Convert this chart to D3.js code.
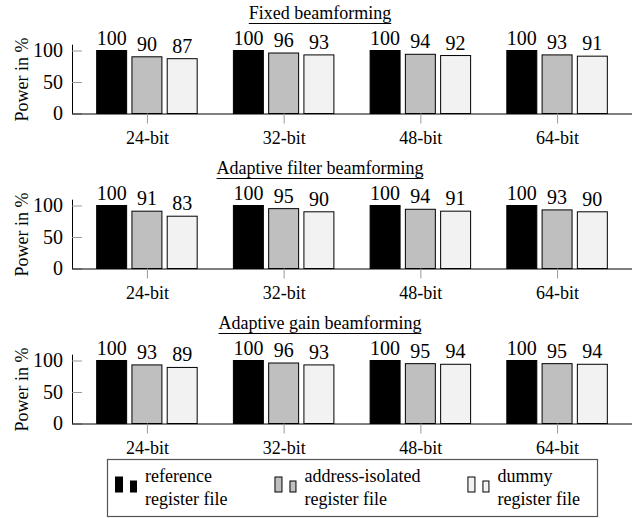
<!DOCTYPE html>
<html>
<head>
<meta charset="utf-8">
<script src="https://cdn.jsdelivr.net/npm/d3@7"></script>
<style>
  body { margin: 0; background: #fff; }
</style>
</head>
<body>
<script>
// data
const categories = ["24-bit", "32-bit", "48-bit", "64-bit"];
const panelTitles = ["Fixed beamforming", "Adaptive filter beamforming", "Adaptive gain beamforming"];
const seriesNames = ["reference register file", "address-isolated register file", "dummy register file"];
const yTicks = [0, 50, 100];

const fixedValues = [[100, 100, 100, 100], [90, 96, 94, 93], [87, 93, 92, 91]];
const filterValues = [[100, 100, 100, 100], [91, 95, 94, 93], [83, 90, 91, 90]];
const gainValues = [[100, 100, 100, 100], [93, 96, 95, 95], [89, 93, 94, 94]];
const panels = [fixedValues, filterValues, gainValues];

const colors = ["#000000", "#bfbfbf", "#f2f2f2"];

const W = 643, H = 518;
const left = 72, right = 632;
const firstBase = 113.5, panelStep = 155;
const FONT = "'Liberation Serif', 'Times New Roman', serif";
const textSize = 18, numSize = 20;

const svg = d3.select("body").append("svg")
    .attr("width", W)
    .attr("height", H)
    .attr("font-family", FONT)
    .style("display", "block");

let x = d3.scalePoint()
    .domain(categories)
    .range([left, right])
    .padding(0.548);

let xs = d3.scaleBand()
    .domain(d3.range(seriesNames.length))
    .range([-50.25, 50.25])
    .paddingInner(0.15);

panels.forEach((values, p) => {
    const base = firstBase + p * panelStep;
    let y = d3.scaleLinear().domain([0, 110]).range([base, base - 110 * 0.63]);
    let g = svg.append("g");

    // bars
    values.forEach((series, s) => {
        g.selectAll(null)
            .data(series)
            .join("rect")
            .attr("x", (d, i) => x(categories[i]) + xs(s))
            .attr("width", xs.bandwidth())
            .attr("y", d => y(d))
            .attr("height", d => y(0) - y(d))
            .attr("fill", colors[s])
            .attr("stroke", "#000")
            .attr("stroke-width", 1);

        g.selectAll(null)
            .data(series)
            .join("text")
            .attr("x", (d, i) => x(categories[i]) + xs(s) + xs.bandwidth() / 2)
            .attr("y", d => y(d) - 6)
            .attr("text-anchor", "middle")
            .attr("font-family", FONT)
            .attr("font-size", numSize)
            .text(d => d);
    });

    // y axis
    let yAxis = g.append("g")
        .attr("transform", `translate(${left},0)`)
        .call(d3.axisLeft(y).tickValues(yTicks).tickSize(-10).tickSizeOuter(0).tickPadding(9));
    yAxis.attr("font-family", FONT).attr("font-size", numSize);
    yAxis.selectAll(".tick line").attr("stroke", "#999");
    yAxis.select(".domain").attr("stroke", "#000");

    // x axis
    let xAxis = g.append("g")
        .attr("transform", `translate(0,${base})`)
        .call(d3.axisBottom(x).tickSize(10).tickSizeOuter(0).tickPadding(8));
    xAxis.attr("font-family", FONT).attr("font-size", textSize);
    xAxis.select(".domain").attr("d", `M${left},0.5H${right}`).attr("stroke", "#000");
    xAxis.selectAll(".tick line").attr("stroke", "#999");

    // y label
    g.append("text")
        .attr("transform", `translate(28,${base - 34}) rotate(-90)`)
        .attr("text-anchor", "middle")
        .attr("font-family", FONT)
        .attr("font-size", textSize)
        .text("Power in %");

    // underlined title
    let title = g.append("text")
        .attr("x", 320)
        .attr("y", base - 95)
        .attr("text-anchor", "middle")
        .attr("font-family", FONT)
        .attr("font-size", textSize)
        .text(panelTitles[p]);
    let tw = title.node().getComputedTextLength();
    g.append("line")
        .attr("x1", 320 - tw / 2).attr("x2", 320 + tw / 2)
        .attr("y1", base - 90).attr("y2", base - 90)
        .attr("stroke", "#000").attr("stroke-width", 1);
});

// legend
const legTop = 459, legBottom = 517;
let legend = svg.append("g");
legend.append("rect")
    .attr("x", 107.5).attr("y", legTop + 0.5)
    .attr("width", 490).attr("height", legBottom - legTop - 1)
    .attr("fill", "#fff")
    .attr("stroke", "#555")
    .attr("stroke-width", 1.2);

let cx = 115.5;
seriesNames.forEach((name, s) => {
    let item = legend.append("g").attr("transform", `translate(${cx},0)`);
    item.append("rect")
        .attr("x", 0).attr("y", 477).attr("width", 7).attr("height", 15)
        .attr("fill", colors[s]).attr("stroke", "#000").attr("stroke-width", 1);
    item.append("rect")
        .attr("x", 15).attr("y", 481).attr("width", 6).attr("height", 11)
        .attr("fill", colors[s]).attr("stroke", "#000").attr("stroke-width", 1);
    let words = name.split(" ");
    let lines = [words.slice(0, -2).join(" "), words.slice(-2).join(" ")];
    let t = item.append("text")
        .attr("x", 29.5)
        .attr("font-family", FONT)
        .attr("font-size", textSize);
    lines.forEach((ln, k) => {
        t.append("tspan").attr("x", 29.5).attr("y", 482 + k * 23).text(ln);
    });
    cx += 29.5 + t.node().getBBox().width + 47.5;
});
</script>
</body>
</html>
